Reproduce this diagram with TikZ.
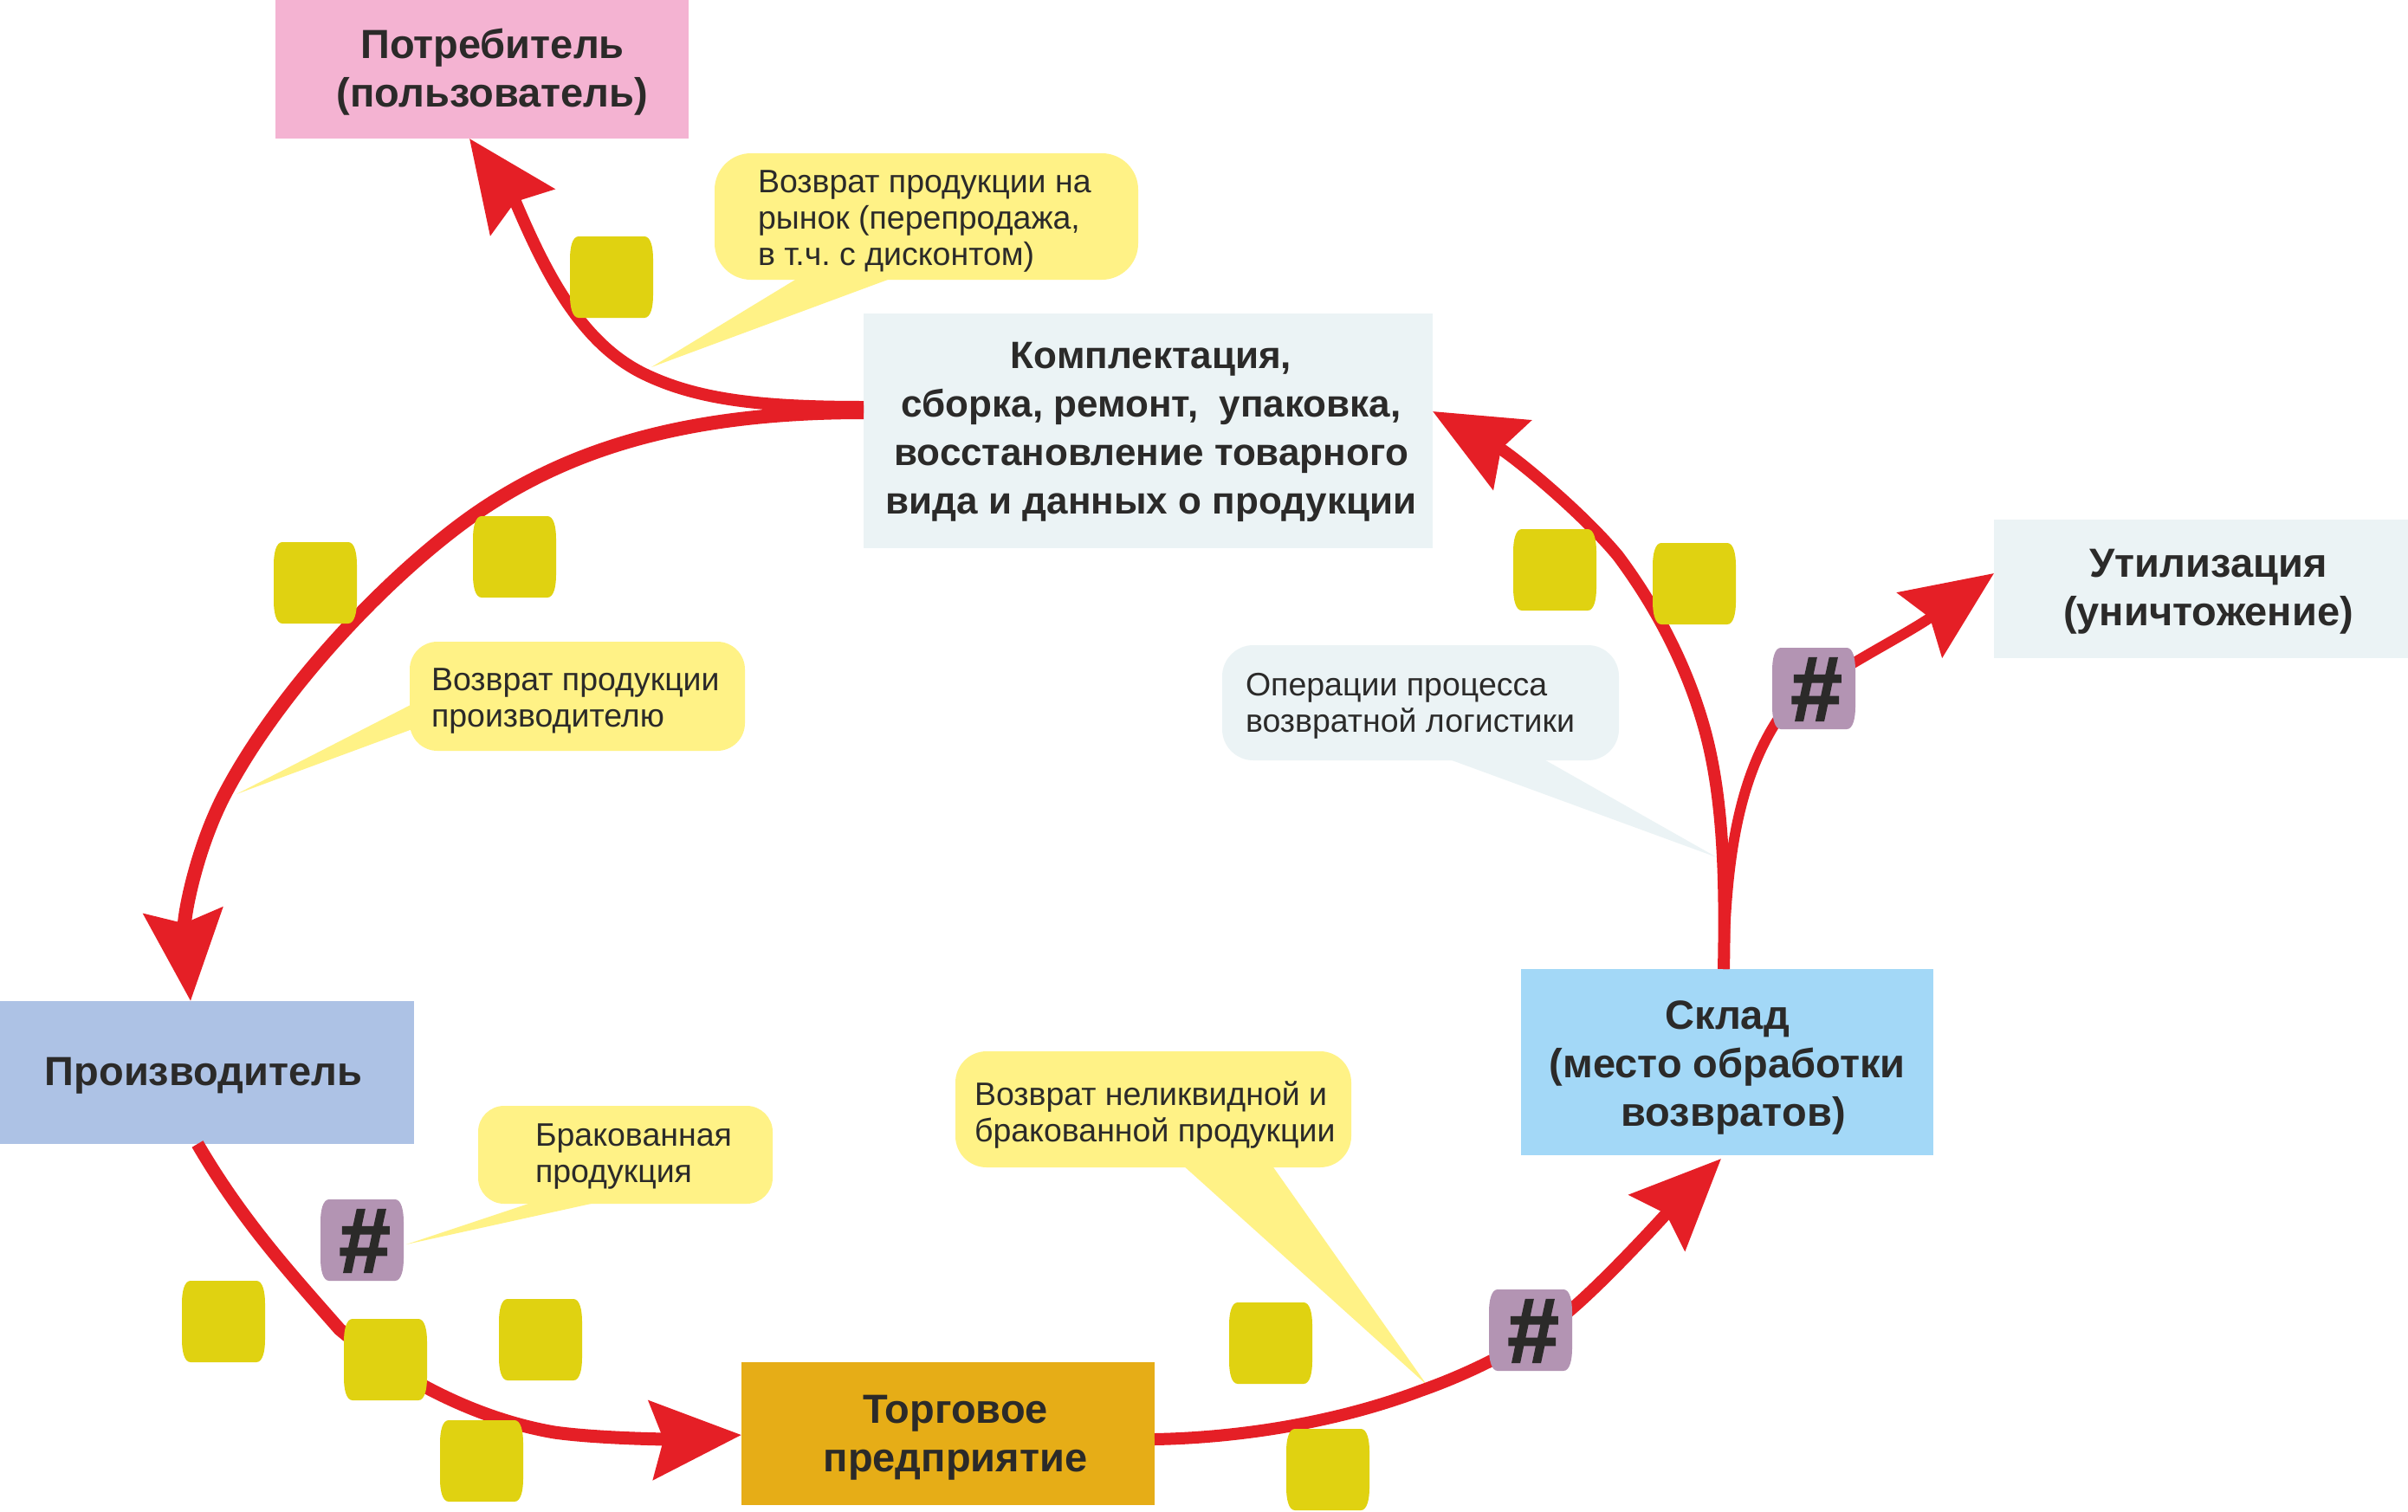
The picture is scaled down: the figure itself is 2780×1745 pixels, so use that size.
\documentclass[tikz,border=0pt]{standalone}
\usepackage{fontspec}
\setmainfont{Liberation Sans}
\newfontface\hashfont{Liberation Sans Bold}[FakeBold=2]
\usetikzlibrary{arrows.meta,calc}
\definecolor{txt}{HTML}{2B2A29}
\definecolor{red1}{HTML}{E51F26}
\definecolor{chipy}{HTML}{E0D211}
\definecolor{chipp}{HTML}{B394B3}
\definecolor{bub}{HTML}{FFF286}
\definecolor{pale}{HTML}{EBF3F5}
\definecolor{cpotr}{HTML}{F4B3D2}
\definecolor{cproi}{HTML}{ADC2E5}
\definecolor{ctorg}{HTML}{E6AD17}
\definecolor{cskl}{HTML}{A3D8F7}
\tikzset{
  x=1pt,y=-1pt,
  stagebox/.style={inner sep=0pt,outer sep=0pt,text=txt,font=\fontsize{47}{56}\selectfont\bfseries},
  conn/.style={draw=red1,line width=14pt,-{Stealth[length=104pt,width=90pt,inset=14pt]}},
  bubtext/.style={inner sep=0pt,outer sep=0pt,text=txt,anchor=west,align=left,font=\fontsize{37.5}{42}\selectfont\frenchspacing},
  hashtext/.style={inner sep=0pt,text=txt,font=\fontsize{106}{106}\hashfont},
}
% stage box: name, x0, y0, x1, y1, options, text kern, top pad, text
\newcommand\stage[9]{%
  \pgfmathsetmacro\bw{#4-#2}\pgfmathsetmacro\bh{#5-#3}%
  \node[stagebox,#6,minimum width=\bw pt,minimum height=\bh pt] (#1) at ({(#2+#4)/2},{(#3+#5)/2})
    {\vbox{\vskip#8pt\hbox{\kern#7pt\begin{tabular}{@{}c@{}}#9\end{tabular}}}};}
% callout: x0,y0,x1,y1,colour,radius,tail
\newcommand\bubble[7]{%
  \fill[#5,rounded corners=#6pt] (#1,#2) rectangle (#3,#4);
  \fill[#5] #7;}
% chip: name, x0, y0, colour, text
\newcommand\chip[5]{%
  \fill[#4] ({#2+10},#3) -- ({#2+86},#3) .. controls ({#2+93},#3) and ({#2+96},{#3+12}) .. ({#2+96},{#3+26})
    -- ({#2+96},{#3+68}) .. controls ({#2+96},{#3+82}) and ({#2+93},{#3+94}) .. ({#2+86},{#3+94})
    -- ({#2+10},{#3+94}) .. controls ({#2+3},{#3+94}) and ({#2},{#3+82}) .. ({#2},{#3+68})
    -- ({#2},{#3+26}) .. controls ({#2},{#3+12}) and ({#2+3},{#3}) .. ({#2+10},{#3}) -- cycle;
  \node[hashtext] (#1) at ({#2+51},{#3+48}) {#5};}
\begin{document}
\begin{tikzpicture}
\useasboundingbox (0,0) rectangle (2780,1745);
\fill[white] (0,0) rectangle (2780,1745);
% stages
\stage{potr}{318}{0}{795}{160}{fill=cpotr}{24}{8}{Потребитель\\(пользователь)}
\stage{komp}{997}{362}{1654}{633}{fill=pale,font=\fontsize{44}{56}\selectfont\bfseries}{7}{1}{Комплектация,\\сборка, ремонт,\ \ упаковка,\\восстановление товарного\\вида и данных о продукции}
\stage{util}{2302}{600}{2780}{760}{fill=pale}{17}{7}{Утилизация\\(уничтожение)}
\stage{skl}{1756}{1119}{2232}{1334}{fill=cskl}{0}{14}{Склад\\(место обработки\\\kern14pt возвратов)}
\stage{proi}{0}{1156}{478}{1321}{fill=cproi}{-8}{7}{Производитель}
\stage{torg}{856}{1573}{1333}{1738}{fill=ctorg}{17}{10}{Торговое\\предприятие}
% callouts
\bubble{825}{177}{1314}{323}{bub}{42}{(923,320) -- (1033,320) -- (752,424) -- cycle}
\bubble{473}{741}{860}{867}{bub}{32}{(476,813) -- (476,842) -- (273,917) -- cycle}
\bubble{1411}{745}{1869}{878}{pale}{36}{(1668,875) -- (1779,875) -- (1982,990) -- cycle}
\bubble{552}{1277}{892}{1390}{bub}{30}{(619,1387) -- (696,1387) -- (469,1437) -- cycle}
\bubble{1103}{1214}{1560}{1348}{bub}{36}{(1365,1345) -- (1468,1345) -- (1647,1599) -- cycle}
\node[bubtext] (b1) at (875,255) {Возврат продукции на\\рынок (перепродажа,\\в т.ч. с дисконтом)};
\node[bubtext] (b2) at (498,809) {Возврат продукции\\производителю};
\node[bubtext] (b3) at (1438,815) {Операции процесса\\возвратной логистики};
\node[bubtext] (b4) at (618,1335) {Бракованная\\продукция};
\node[bubtext] (b5) at (1125,1287) {Возврат неликвидной и\\бракованной продукции};
% connector anchors on box edges
\coordinate (kA) at (komp.west |- 0,470);
\coordinate (kB) at (komp.west |- 0,476);
\coordinate (tA) at (potr.south -| 542,0);
\coordinate (tB) at (proi.north -| 220,0);
\coordinate (sC) at (proi.south -| 228,0);
\coordinate (tC) at (torg.west |- 0,1657);
\coordinate (sD) at (torg.east |- 0,1662);
\coordinate (tD) at (1987,1338);
\coordinate (sE) at (skl.north -| 1990,0);
\coordinate (tE) at (komp.east |- 0,475);
\coordinate (tF) at (util.west |- 0,662);
% connectors
\draw[conn] (kA) .. controls (880,470) and (805,462) .. (742,431)
  .. controls (670,395) and (630,315) .. (595,233)
  .. controls (580,198) and (560,185) .. (tA);
\draw[conn,line width=16pt] (kB) .. controls (800,476) and (660,515) .. (545,596)
  .. controls (445,667) and (320,800) .. (258,920)
  .. controls (225,985) and (212,1060) .. (tB);
\draw[conn,line width=15pt] (sC) .. controls (280,1410) and (335,1470) .. (392,1535)
  .. controls (440,1575) and (530,1635) .. (640,1654)
  .. controls (690,1661) and (770,1662) .. (tC);
\draw[conn] (sD) .. controls (1440,1660) and (1550,1640) .. (1640,1606)
  .. controls (1700,1585) and (1770,1550) .. (1815,1511)
  .. controls (1860,1472) and (1925,1400) .. (tD);
\draw[conn] (sE) .. controls (1992,1020) and (1990,925) .. (1969,846)
  .. controls (1950,775) and (1915,705) .. (1868,642)
  .. controls (1825,590) and (1745,525) .. (tE);
\draw[conn,line width=12pt] (sE) .. controls (1992,1000) and (2005,905) .. (2051,833)
  .. controls (2075,795) and (2190,740) .. (tF);
% chips
\chip{c1}{658}{273}{chipy}{}
\chip{c2}{316}{626}{chipy}{}
\chip{c3}{546}{596}{chipy}{}
\chip{c4}{1747}{611}{chipy}{}
\chip{c5}{1908}{627}{chipy}{}
\chip{h1}{2046}{748}{chipp}{\#}
\chip{h2}{370}{1385}{chipp}{\#}
\chip{c6}{210}{1479}{chipy}{}
\chip{c7}{397}{1523}{chipy}{}
\chip{c8}{576}{1500}{chipy}{}
\chip{c9}{508}{1640}{chipy}{}
\chip{c10}{1419}{1504}{chipy}{}
\chip{c11}{1485}{1650}{chipy}{}
\chip{h3}{1719}{1489}{chipp}{\#}
\end{tikzpicture}
\end{document}
